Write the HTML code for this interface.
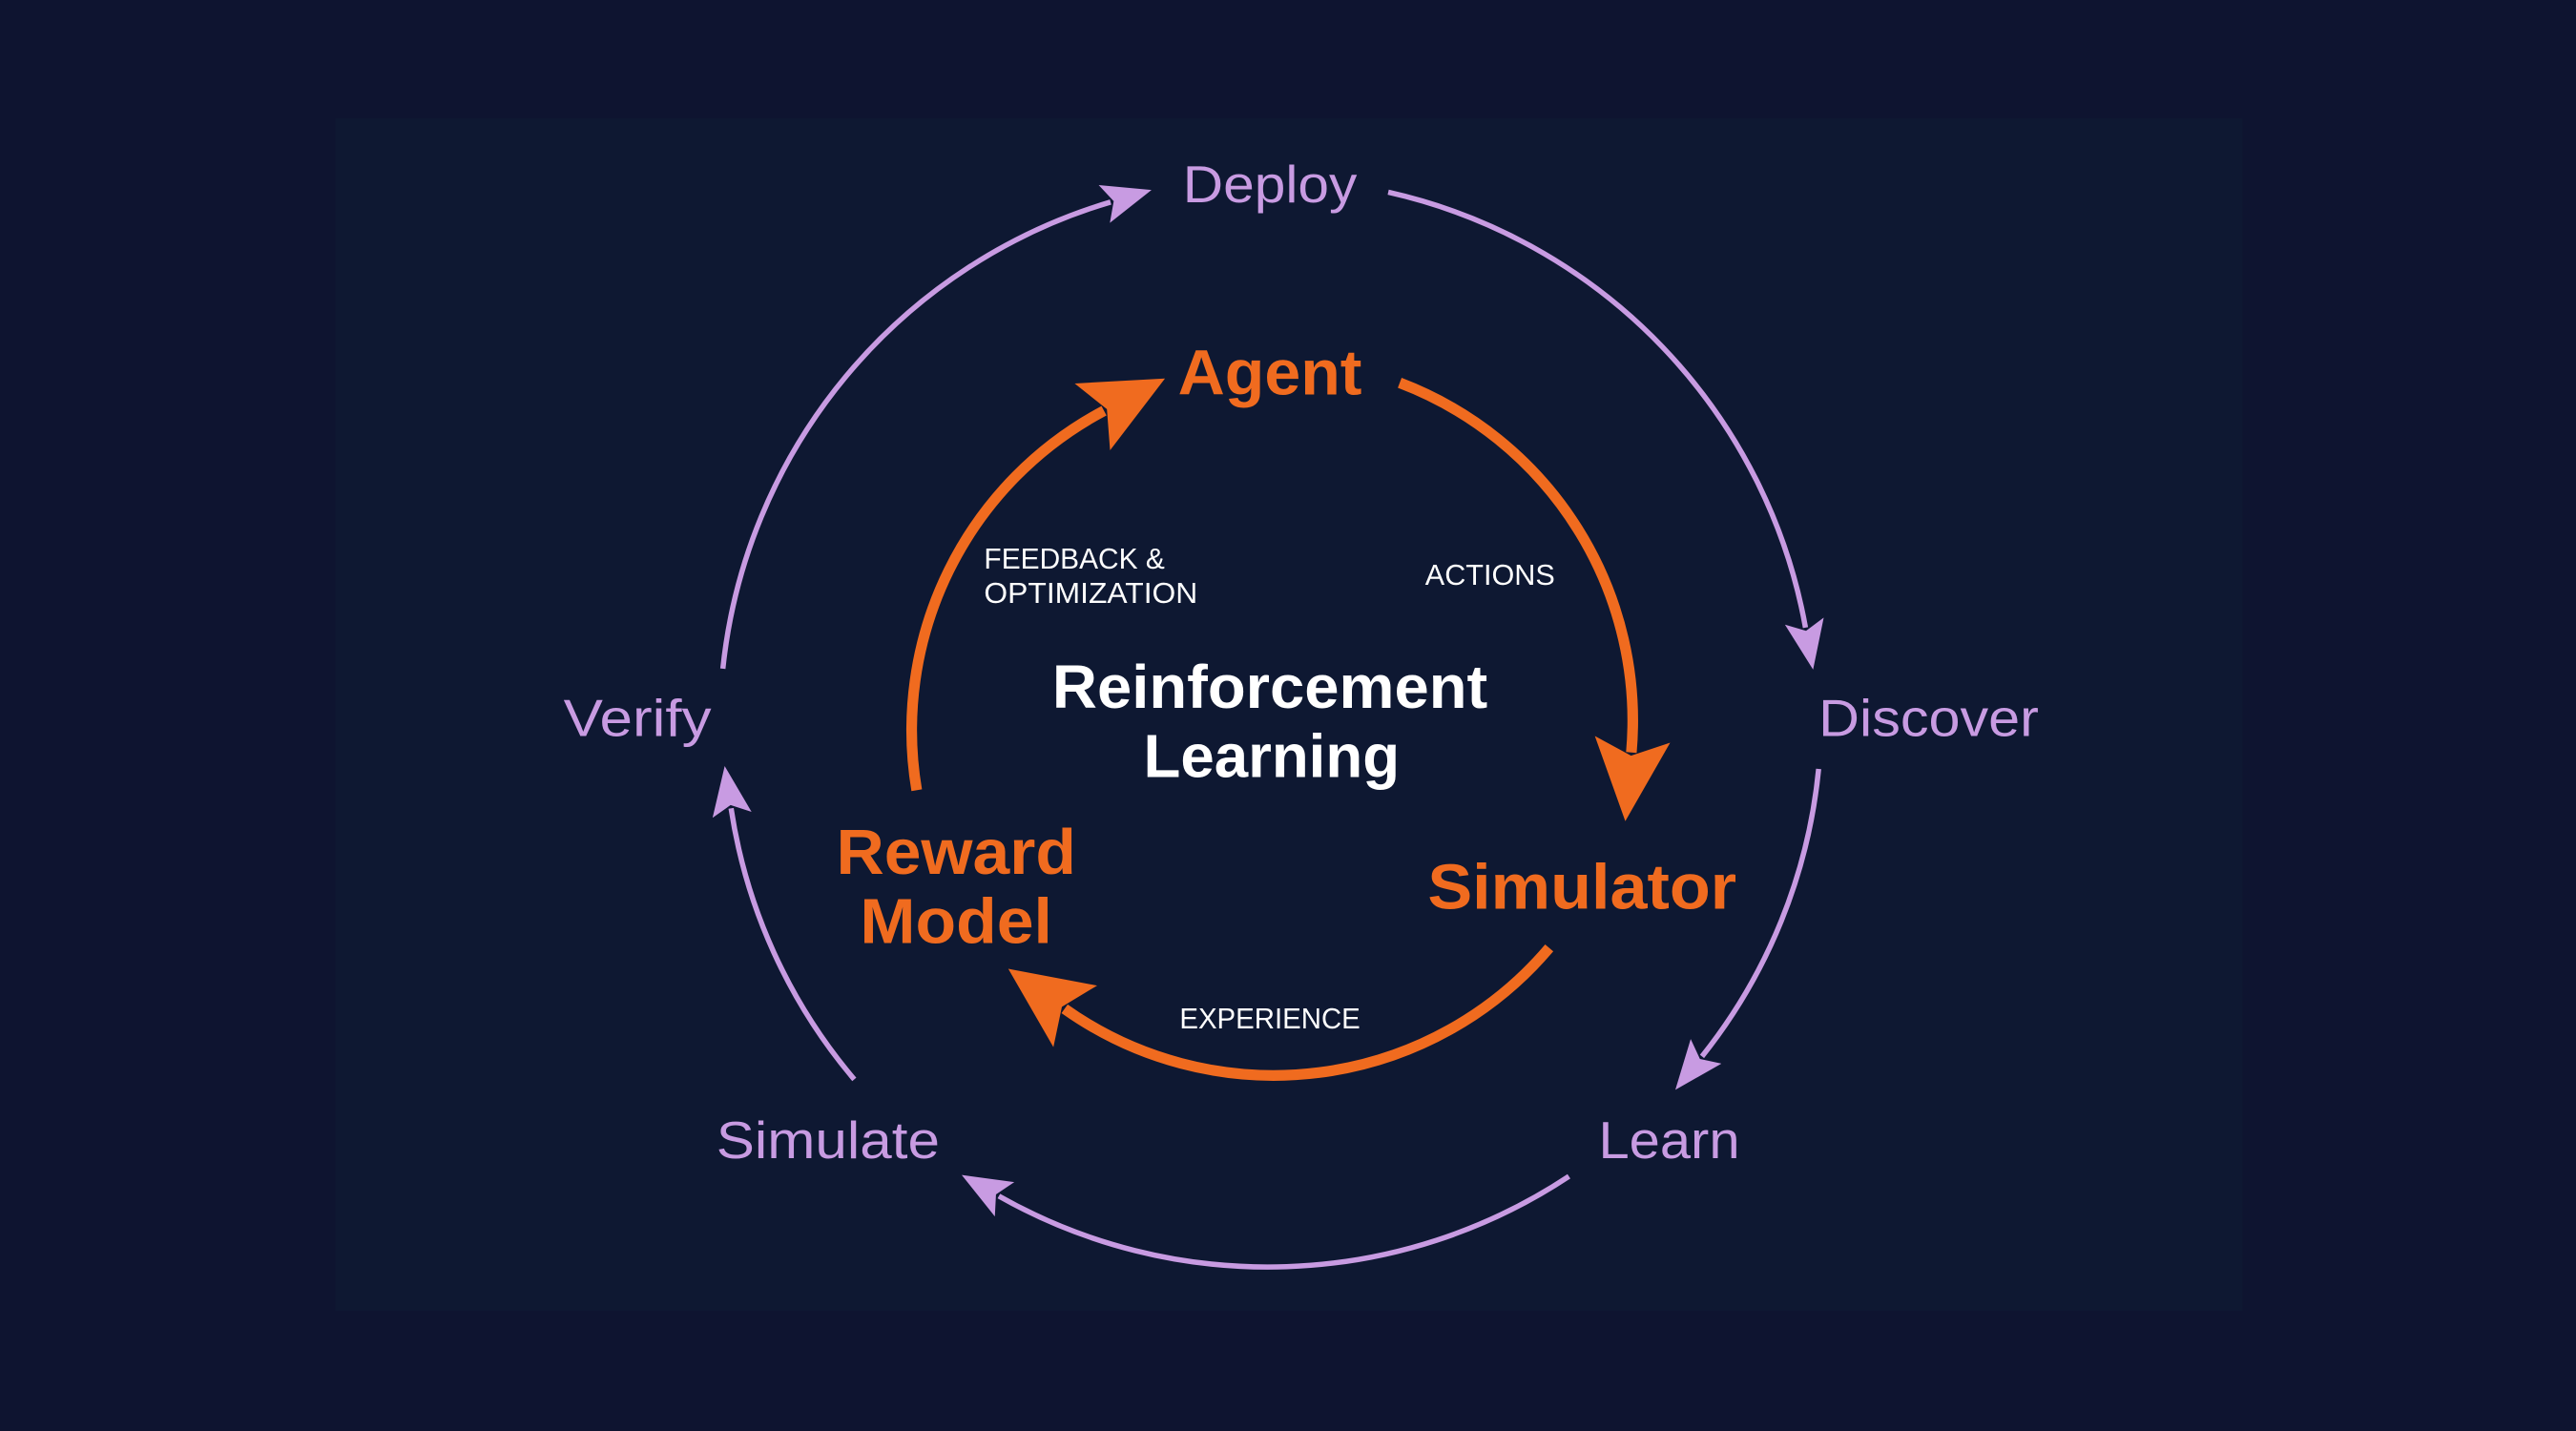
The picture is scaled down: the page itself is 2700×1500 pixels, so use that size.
<!DOCTYPE html>
<html><head><meta charset="utf-8"><style>
html,body{margin:0;padding:0;background:#0e1430;}
svg{display:block}
</style></head><body>
<svg width="2700" height="1500" viewBox="0 0 1568 871" preserveAspectRatio="none" xmlns="http://www.w3.org/2000/svg">
<defs>
<marker id="pa" markerUnits="userSpaceOnUse" viewBox="0 0 30 30" refX="4" refY="15" markerWidth="30" markerHeight="30" orient="auto">
<path d="M0,3 L30,15 L0,27 L6,15 Z" fill="#c89be2"/></marker>
<marker id="oa" markerUnits="userSpaceOnUse" viewBox="0 0 50 50" refX="8" refY="25" markerWidth="50" markerHeight="50" orient="auto">
<path d="M0,2 L50,25 L0,48 L10,25 Z" fill="#f06b1f"/></marker>
</defs>
<rect width="1568" height="871" fill="#0e1430"/>
<rect x="204" y="72" width="1161" height="726" fill="#0e1832"/>
<g fill="none" stroke="#c89be2" stroke-width="3.2" marker-end="url(#pa)">
<path d="M440,407 A332,332 0 0 1 676,123"/>
<path d="M845,117 A332,332 0 0 1 1099,382"/>
<path d="M1107,468 A332,332 0 0 1 1036,643"/>
<path d="M955,716 A332,332 0 0 1 608,728"/>
<path d="M520,657 A332,332 0 0 1 445,492"/>
</g>
<g fill="none" stroke="#f06b1f" stroke-width="6.5" marker-end="url(#oa)">
<path d="M852,233 A220,220 0 0 1 993,458"/>
<path d="M943,577 A220,220 0 0 1 648,614"/>
<path d="M558,481 A220,220 0 0 1 672,250"/>
</g>
<g font-family="Liberation Sans, sans-serif" text-anchor="middle">
<g fill="#c89be2" font-size="32">
<text x="773" y="123" textLength="106" lengthAdjust="spacingAndGlyphs">Deploy</text>
<text x="1174" y="448" textLength="134" lengthAdjust="spacingAndGlyphs">Discover</text>
<text x="388" y="448" textLength="90" lengthAdjust="spacingAndGlyphs">Verify</text>
<text x="504" y="705" textLength="136" lengthAdjust="spacingAndGlyphs">Simulate</text>
<text x="1016" y="705" textLength="86" lengthAdjust="spacingAndGlyphs">Learn</text>
</g>
<g fill="#f06b1f" font-size="39" font-weight="bold">
<text x="773" y="240" textLength="112" lengthAdjust="spacingAndGlyphs">Agent</text>
<text x="582" y="532" textLength="146" lengthAdjust="spacingAndGlyphs">Reward</text>
<text x="582" y="574" textLength="117" lengthAdjust="spacingAndGlyphs">Model</text>
<text x="963" y="553" textLength="188" lengthAdjust="spacingAndGlyphs">Simulator</text>
</g>
<g fill="#ffffff" font-size="37" font-weight="bold">
<text x="773" y="431" textLength="265" lengthAdjust="spacingAndGlyphs">Reinforcement</text>
<text x="774" y="473" textLength="156" lengthAdjust="spacingAndGlyphs">Learning</text>
</g>
<g fill="#ffffff" font-size="18">
<text x="599" y="346" text-anchor="start" textLength="110" lengthAdjust="spacingAndGlyphs">FEEDBACK &amp;</text>
<text x="599" y="367" text-anchor="start" textLength="130" lengthAdjust="spacingAndGlyphs">OPTIMIZATION</text>
<text x="907" y="356" textLength="79" lengthAdjust="spacingAndGlyphs">ACTIONS</text>
<text x="773" y="626" textLength="110" lengthAdjust="spacingAndGlyphs">EXPERIENCE</text>
</g>
</g>
</svg>
</body></html>
